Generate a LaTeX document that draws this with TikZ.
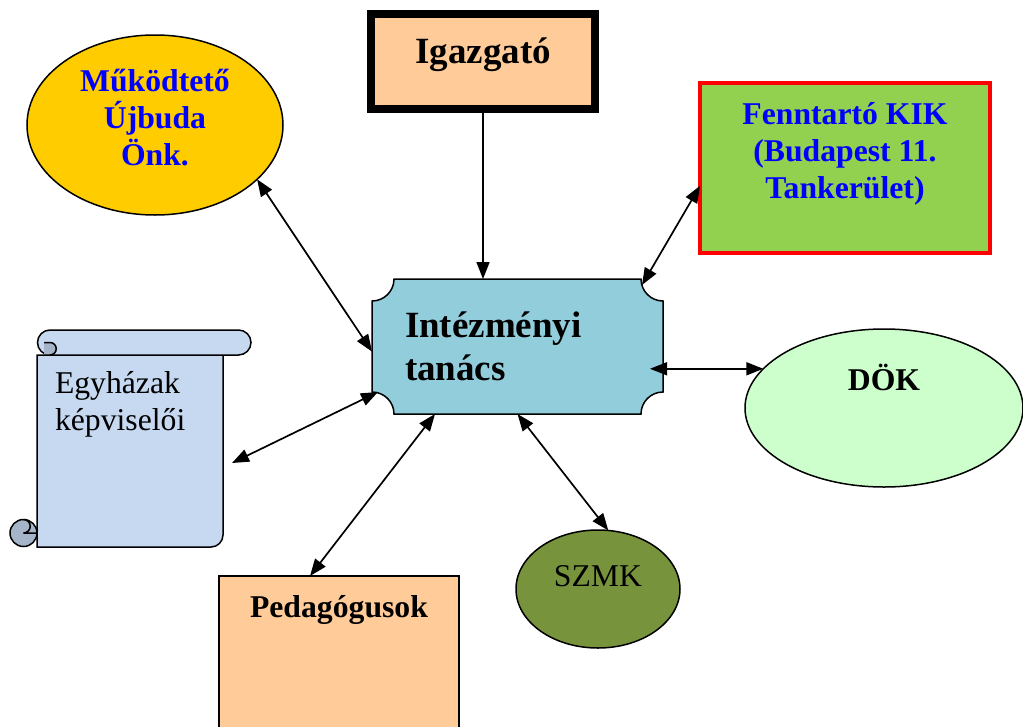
\documentclass[tikz,border=0pt]{standalone}
\usepackage{fontspec}
\setmainfont{Liberation Serif}
\usetikzlibrary{arrows.meta,shapes.geometric,backgrounds}

\definecolor{peach}{HTML}{FFCC99}
\definecolor{gold}{HTML}{FFCC00}
\definecolor{kikgreen}{HTML}{92D050}
\definecolor{tanacsblue}{HTML}{92CDDC}
\definecolor{scrollblue}{HTML}{C6D9F1}
\definecolor{scrolldark}{HTML}{A5B4C8}
\definecolor{dokgreen}{HTML}{CCFFCC}
\definecolor{szmkgreen}{HTML}{77933C}
\definecolor{textblue}{HTML}{0000FF}

\newcommand{\bignormal}{\fontsize{31.7}{37}\selectfont}
\newcommand{\bigbold}{\fontsize{37}{43}\selectfont\bfseries}

\begin{document}
\begin{tikzpicture}[
	x=1pt, y=-1pt,
	mynode/.style = {
		draw, rectangle, align=center, inner sep=0pt, outer sep=0pt,
		line width=1.5pt, font=\bignormal\bfseries},
	myellipse/.style = {mynode, ellipse},
	arrow/.style = {line width=1.7pt, -{Triangle[length=17pt,width=13pt]}},
	biarrow/.style = {arrow, {Triangle[length=17pt,width=13pt]}-{Triangle[length=17pt,width=13pt]}},
	scroll/.style = {draw, line width=1.5pt, fill=scrollblue}
]
\useasboundingbox (0,0) rectangle (1023,726);

\node (igazgato) [mynode, fill=peach, line width=8pt, font=\bigbold,
	minimum width=224pt, minimum height=95pt,
	text height=22pt, text depth=19pt] at (483,61.5) {Igazgató};
\node (mukodteto) [myellipse, fill=gold, text=textblue,
	minimum width=256pt, minimum height=180pt,
	text height=100pt, text depth=20pt] at (155,125) {Működtető\\Újbuda\\Önk.};
\node (fenntarto) [mynode, fill=kikgreen, draw=red, line width=4pt, text=textblue,
	minimum width=290pt, minimum height=170pt,
	text height=100pt, text depth=40pt] at (845,168) {Fenntartó KIK\\(Budapest 11.\\Tankerület)};
\node (tanacs) [mynode, draw=none, font=\bigbold, text width=225pt, align=left,
	minimum width=291pt, minimum height=135pt,
	text height=30pt, text depth=49pt] at (517.5,346.5) {Intézményi\\tanács};
\node (dok) [myellipse, fill=dokgreen,
	minimum width=278pt, minimum height=158pt,
	text height=25pt, text depth=61pt] at (884,408) {DÖK};
\node (szmk) [myellipse, fill=szmkgreen, font=\bignormal,
	minimum width=164pt, minimum height=118pt,
	text height=22pt, text depth=28pt] at (598,589) {SZMK};
\node (pedagog) [mynode, fill=peach,
	minimum width=240pt, minimum height=184pt,
	text height=25pt, text depth=127pt] at (339,668) {Pedagógusok};
\node (egyhaz) [mynode, draw=none, font=\bignormal, text width=150pt, align=left,
	minimum width=186pt, minimum height=192pt,
	text height=25pt, text depth=141pt] at (130,451) {Egyházak\\képviselői};

\begin{scope}[on background layer]
	% plaque behind the council
	\draw[line width=1.5pt, fill=tanacsblue]
		([xshift=22pt]tanacs.north west) -- ([xshift=-22pt]tanacs.north east)
		arc[start angle=180, end angle=90, radius=22] -- ([yshift=22pt]tanacs.south east)
		arc[start angle=-90, end angle=-180, radius=22] -- ([xshift=22pt]tanacs.south west)
		arc[start angle=0, end angle=-90, radius=22] -- ([yshift=-22pt]tanacs.north west)
		arc[start angle=90, end angle=0, radius=22] -- cycle;
	% scroll behind the churches
	\draw[scroll] (37,355) -- (37,547) -- (211,547)
		arc[start angle=90, end angle=0, radius=12] -- (223,355) -- cycle;
	\draw[scroll, fill=scrolldark] (23.5,533) circle[radius=13.5];
	\draw[line width=1.5pt] (23.5,519.5) arc[start angle=-90, end angle=90, radius=6.75] -- (37,533);
	\draw[scroll, rounded corners=12.5pt] (37.5,330) rectangle (251,355);
	\draw[scroll, fill=scrolldark] (44,342.5) -- (50,342.5)
		arc[start angle=-90, end angle=90, radius=6.25] -- (44,355);
\end{scope}

\draw[arrow] (igazgato.south) -- (igazgato.south |- tanacs.north);
\draw[biarrow] (mukodteto.-28) -- (tanacs.182);
\draw[biarrow] (fenntarto.187) -- ([shift={(-21,6)}]tanacs.north east);
\draw[biarrow] ([xshift=-13pt]tanacs.east |- dok.162) -- (dok.162);
\draw[biarrow] ([shift={(9,12)}]egyhaz.east) -- ([shift={(6,-22)}]tanacs.south west);
\draw[biarrow] ([xshift=-29pt]pedagog.north) -- ([xshift=63pt]tanacs.south west);
\draw[biarrow] (tanacs.south) -- (szmk.80);
\end{tikzpicture}
\end{document}
